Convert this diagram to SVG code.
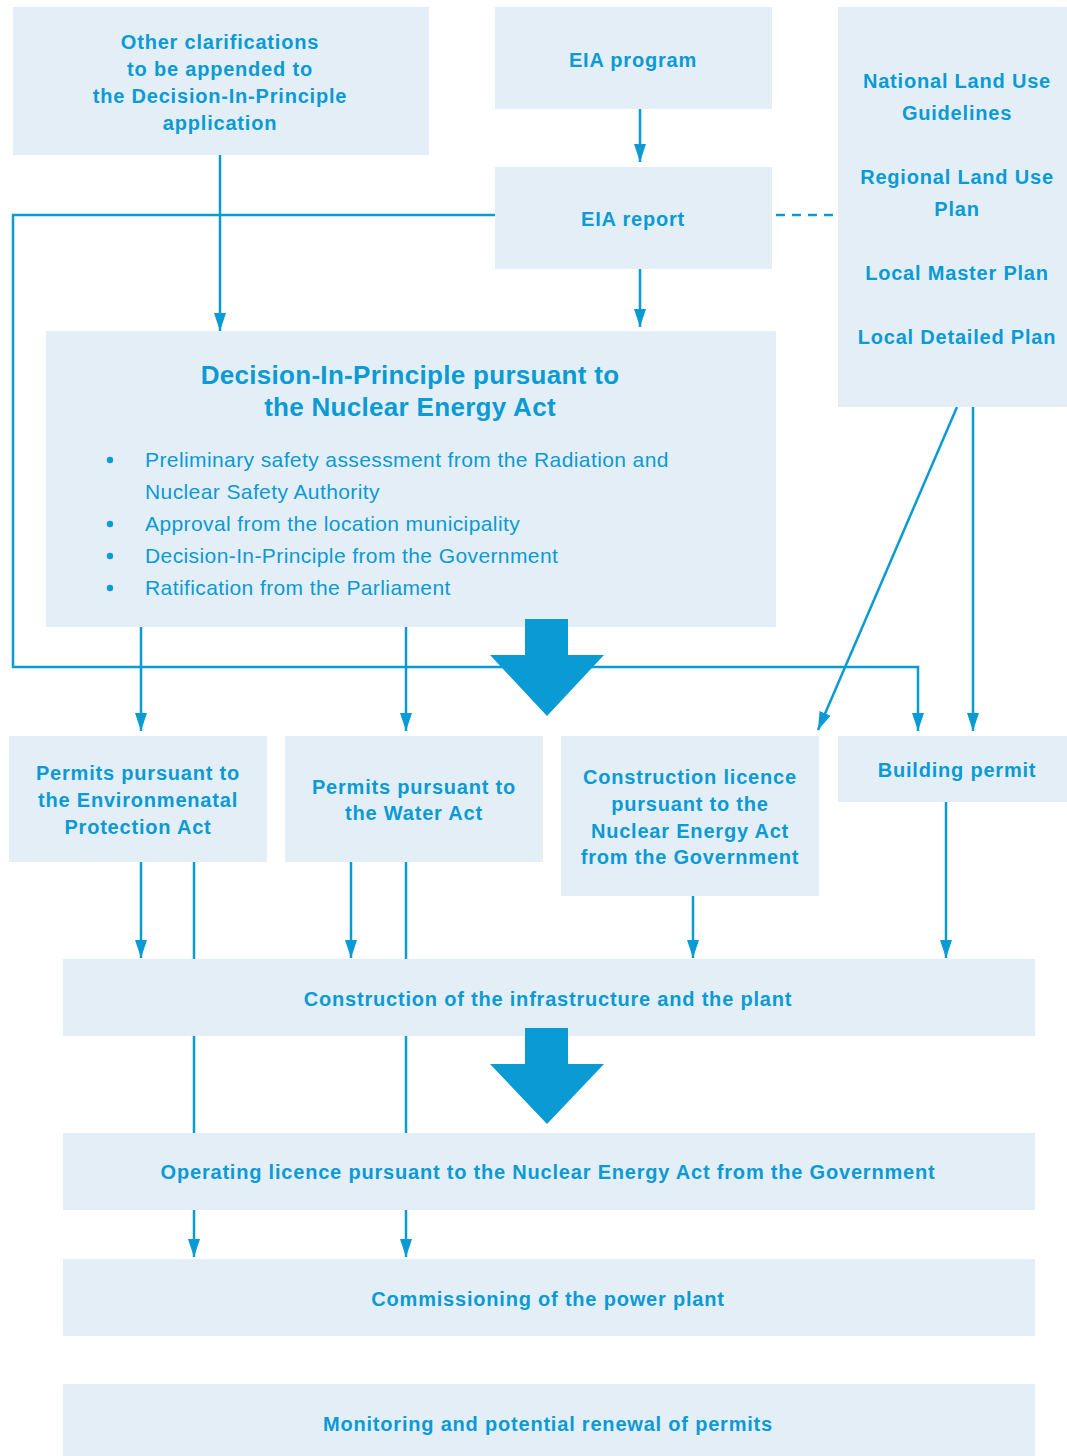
<svg xmlns="http://www.w3.org/2000/svg" width="1067" height="1456" viewBox="0 0 1067 1456">
<style>
.box{fill:#e3eef7}
.t{font-family:"Liberation Sans",Arial,sans-serif;font-weight:bold;font-size:20px;letter-spacing:0.8px;fill:#0a9ad4;text-anchor:middle}
.title{font-family:"Liberation Sans",Arial,sans-serif;font-weight:bold;font-size:26px;letter-spacing:0.3px;fill:#0a9ad4;text-anchor:middle}
.b{font-family:"Liberation Sans",Arial,sans-serif;font-size:21px;letter-spacing:0.4px;fill:#0a9ad4}
.ln{fill:none;stroke:#0a9ad4;stroke-width:2.5}
.big{fill:#0a9ad4}
</style>
<defs>
<marker id="ahd" viewBox="0 0 18 12" refX="18" refY="6" markerWidth="18" markerHeight="12" markerUnits="userSpaceOnUse" orient="auto">
<path d="M0,0 L18,6 L0,12 Z" fill="#0a9ad4"/>
</marker>
</defs>
<rect width="1067" height="1456" fill="#ffffff"/>
<g id="connectors">
<line class="ln" x1="220" y1="155" x2="220" y2="331" marker-end="url(#ahd)"/>
<line class="ln" x1="640" y1="109" x2="640" y2="162" marker-end="url(#ahd)"/>
<line class="ln" x1="640" y1="269" x2="640" y2="327" marker-end="url(#ahd)"/>
<polyline class="ln" points="495,215 13,215 13,667 918,667 918,731" marker-end="url(#ahd)"/>
<line class="ln" x1="776" y1="215" x2="834" y2="215" stroke-dasharray="9,7"/>
<line class="ln" x1="141" y1="627" x2="141" y2="731" marker-end="url(#ahd)"/>
<line class="ln" x1="406" y1="627" x2="406" y2="731" marker-end="url(#ahd)"/>
<line class="ln" x1="957" y1="407" x2="818" y2="730" marker-end="url(#ahd)"/>
<line class="ln" x1="973" y1="407" x2="973" y2="731" marker-end="url(#ahd)"/>
<line class="ln" x1="141" y1="862" x2="141" y2="958" marker-end="url(#ahd)"/>
<line class="ln" x1="194" y1="862" x2="194" y2="1257" marker-end="url(#ahd)"/>
<line class="ln" x1="351" y1="862" x2="351" y2="958" marker-end="url(#ahd)"/>
<line class="ln" x1="406" y1="862" x2="406" y2="1257" marker-end="url(#ahd)"/>
<line class="ln" x1="693" y1="896" x2="693" y2="958" marker-end="url(#ahd)"/>
<line class="ln" x1="946" y1="802" x2="946" y2="958" marker-end="url(#ahd)"/>
</g>
<g id="n-other"><rect class="box" x="13" y="7" width="416" height="148"/>
<text class="t" x="220" y="49">Other clarifications</text>
<text class="t" x="220" y="76">to be appended to</text>
<text class="t" x="220" y="103">the Decision-In-Principle</text>
<text class="t" x="220" y="130">application</text></g>
<g id="n-eiaprog"><rect class="box" x="495" y="7" width="277" height="102"/>
<text class="t" x="633" y="67">EIA program</text></g>
<g id="n-eiarep"><rect class="box" x="495" y="167" width="277" height="102"/>
<text class="t" x="633" y="226">EIA report</text></g>
<g id="n-landuse"><rect class="box" x="838" y="7" width="229" height="400"/>
<text class="t" x="957" y="88">National Land Use</text>
<text class="t" x="957" y="120">Guidelines</text>
<text class="t" x="957" y="184">Regional Land Use</text>
<text class="t" x="957" y="216">Plan</text>
<text class="t" x="957" y="280">Local Master Plan</text>
<text class="t" x="957" y="344">Local Detailed Plan</text></g>
<g id="n-dip"><rect class="box" x="46" y="331" width="730" height="296"/>
<text class="title" x="410" y="384">Decision-In-Principle pursuant to</text>
<text class="title" x="410" y="416">the Nuclear Energy Act</text>
<g class="b">
<circle cx="110" cy="460" r="3.2" fill="#0a9ad4"/>
<text x="145" y="467">Preliminary safety assessment from the Radiation and</text>
<text x="145" y="499">Nuclear Safety Authority</text>
<circle cx="110" cy="524" r="3.2" fill="#0a9ad4"/>
<text x="145" y="531">Approval from the location municipality</text>
<circle cx="110" cy="556" r="3.2" fill="#0a9ad4"/>
<text x="145" y="563">Decision-In-Principle from the Government</text>
<circle cx="110" cy="588" r="3.2" fill="#0a9ad4"/>
<text x="145" y="595">Ratification from the Parliament</text>
</g></g>
<g id="n-env"><rect class="box" x="9" y="736" width="258" height="126"/>
<text class="t" x="138" y="780">Permits pursuant to</text>
<text class="t" x="138" y="807">the Environmenatal</text>
<text class="t" x="138" y="834">Protection Act</text></g>
<g id="n-water"><rect class="box" x="285" y="736" width="258" height="126"/>
<text class="t" x="414" y="794">Permits pursuant to</text>
<text class="t" x="414" y="820">the Water Act</text></g>
<g id="n-constlic"><rect class="box" x="561" y="736" width="258" height="160"/>
<text class="t" x="690" y="784">Construction licence</text>
<text class="t" x="690" y="811">pursuant to the</text>
<text class="t" x="690" y="838">Nuclear Energy Act</text>
<text class="t" x="690" y="864">from the Government</text></g>
<g id="n-building"><rect class="box" x="838" y="736" width="229" height="66"/>
<text class="t" x="957" y="777">Building permit</text></g>
<g id="n-constr"><rect class="box" x="63" y="959" width="972" height="77"/>
<text class="t" x="548" y="1006">Construction of the infrastructure and the plant</text></g>
<g id="n-oper"><rect class="box" x="63" y="1133" width="972" height="77"/>
<text class="t" x="548" y="1179">Operating licence pursuant to the Nuclear Energy Act from the Government</text></g>
<g id="n-comm"><rect class="box" x="63" y="1259" width="972" height="77"/>
<text class="t" x="548" y="1306">Commissioning of the power plant</text></g>
<g id="n-monit"><rect class="box" x="63" y="1384" width="972" height="72"/>
<text class="t" x="548" y="1431">Monitoring and potential renewal of permits</text></g>
<g id="bigarrows">
<path class="big" d="M525,619 H568 V655 H604 L547,716 L490,655 H525 Z"/>
<path class="big" d="M525,1028 H568 V1064 H604 L547,1124 L490,1064 H525 Z"/>
</g>
</svg>
